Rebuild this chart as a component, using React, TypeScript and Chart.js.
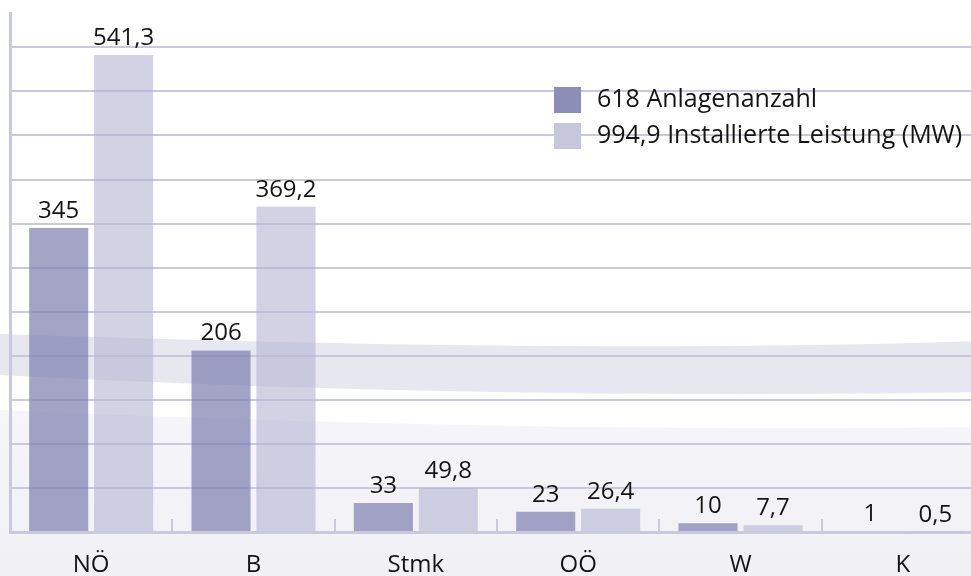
import React, { useEffect, useRef } from "react";
import { Chart, registerables } from "chart.js";

Chart.register(...registerables);

// ---- data ----
const categories = ["NÖ", "B", "Stmk", "OÖ", "W", "K"];
const anlagenanzahl = [345, 206, 33, 23, 10, 1];
const leistungMW = [541.3, 369.2, 49.8, 26.4, 7.7, 0.5];
const seriesLabels = ["618 Anlagenanzahl", "994,9 Installierte Leistung (MW)"];
const yMax = 589;
const yStep = 50;

const FONT = "'Open Sans', 'Noto Sans', sans-serif";
const TEXT = "#141414";
const GRID = "#c9c9dd";
const barColors = ["rgba(128,129,176,0.72)", "rgba(180,180,210,0.6)"];
const legendColors = ["#8d8eb7", "#c6c7dd"];

const fmt = (v: number) => String(v).replace(".", ",");

const backgroundPlugin = {
  id: "bgDecor",
  beforeDraw(chart: any) {
    const { ctx, width, height } = chart;
    ctx.save();
    ctx.fillStyle = "#ffffff";
    ctx.fillRect(0, 0, width, height);
    // lower soft area
    const g = ctx.createLinearGradient(0, 400, 0, height);
    g.addColorStop(0, "rgba(246,246,250,1)");
    g.addColorStop(1, "rgba(240,240,245,1)");
    ctx.fillStyle = g;
    ctx.beginPath();
    ctx.moveTo(0, 410);
    ctx.bezierCurveTo(250, 421, 600, 432, width, 427);
    ctx.lineTo(width, height);
    ctx.lineTo(0, height);
    ctx.closePath();
    ctx.fill();
    // lavender band
    ctx.fillStyle = "#e7e7f0";
    ctx.beginPath();
    ctx.moveTo(0, 334);
    ctx.bezierCurveTo(300, 344, 650, 352, width, 341);
    ctx.lineTo(width, 392);
    ctx.bezierCurveTo(650, 398, 300, 391, 0, 375);
    ctx.closePath();
    ctx.fill();
    ctx.restore();
  },
};

const decorPlugin = {
  id: "decor",
  afterDatasetsDraw(chart: any) {
    const { ctx, chartArea } = chart;
    const xs = chart.scales.x;
    ctx.save();
    // category boundary ticks (pointing up)
    ctx.strokeStyle = GRID;
    ctx.lineWidth = 2;
    for (let i = 0; i < categories.length - 1; i++) {
      const x = Math.round((xs.getPixelForValue(i) + xs.getPixelForValue(i + 1)) / 2);
      ctx.beginPath();
      ctx.moveTo(x, chartArea.bottom);
      ctx.lineTo(x, chartArea.bottom - 13);
      ctx.stroke();
    }
    // value labels
    ctx.font = `24px ${FONT}`;
    ctx.fillStyle = TEXT;
    ctx.textAlign = "center";
    ctx.textBaseline = "alphabetic";
    chart.data.datasets.forEach((ds: any, di: number) => {
      const meta = chart.getDatasetMeta(di);
      meta.data.forEach((bar: any, i: number) => {
        ctx.fillText(fmt(ds.data[i]), bar.x, bar.y - 10);
      });
    });
    // legend
    ctx.font = `25px ${FONT}`;
    chart.data.datasets.forEach((ds: any, di: number) => {
      const top = 87 + di * 36;
      ctx.fillStyle = legendColors[di];
      ctx.fillRect(554, top, 27, 26);
      ctx.fillStyle = TEXT;
      ctx.textAlign = "left";
      ctx.textBaseline = "middle";
      ctx.fillText(ds.label, 597, top + 13);
    });
    ctx.restore();
  },
};

export default function App() {
  const ref = useRef<HTMLCanvasElement | null>(null);

  useEffect(() => {
    if (!ref.current) return;
    const chart = new Chart(ref.current, {
      type: "bar",
      data: {
        labels: categories,
        datasets: [
          {
            label: seriesLabels[0],
            data: anlagenanzahl,
            backgroundColor: barColors[0],
            borderWidth: 0,
          },
          {
            label: seriesLabels[1],
            data: leistungMW,
            backgroundColor: barColors[1],
            borderWidth: 0,
          },
        ],
      },
      options: {
        responsive: false,
        animation: false,
        devicePixelRatio: 1,
        layout: { padding: { top: 13, left: 0, right: 0, bottom: 0 } },
        datasets: { bar: { categoryPercentage: 0.8, barPercentage: 0.91 } },
        plugins: { legend: { display: false }, tooltip: { enabled: false } },
        scales: {
          x: {
            afterFit(s: any) {
              s.height = 44;
            },
            grid: { display: false, drawTicks: false },
            border: { display: true, color: GRID, width: 3 },
            ticks: { font: { family: FONT, size: 24 }, color: TEXT, padding: 19 },
          },
          y: {
            min: 0,
            max: yMax,
            afterFit(s: any) {
              s.width = 10;
            },
            ticks: { display: false, stepSize: yStep },
            grid: {
              drawTicks: false,
              lineWidth: 2,
              color: (c: any) =>
                c.tick && c.tick.value % yStep === 0 ? GRID : "rgba(0,0,0,0)",
            },
            border: { display: true, color: GRID, width: 3 },
          },
        },
      },
      plugins: [backgroundPlugin, decorPlugin],
    } as any);
    return () => chart.destroy();
  }, []);

  return (
    <div
      style={{
        position: "fixed",
        left: 0,
        top: 0,
        width: 971,
        height: 576,
        overflow: "hidden",
        background: "#fff",
      }}
    >
      <canvas ref={ref} width={984} height={576} style={{ display: "block" }} />
    </div>
  );
}
